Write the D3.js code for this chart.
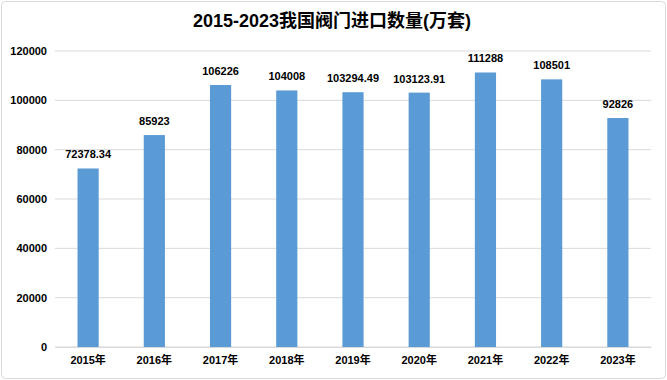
<!DOCTYPE html>
<html><head><meta charset="utf-8">
<script src="https://cdn.jsdelivr.net/npm/d3@7"></script>
<style>
html,body{margin:0;padding:0;background:#fff;}
svg{display:block;font-family:"Liberation Sans","Noto Sans CJK SC",sans-serif;}
</style></head>
<body>
<svg id="c" width="667" height="380"></svg>
<script>
const categories = ["2015年","2016年","2017年","2018年","2019年","2020年","2021年","2022年","2023年"];
const values = [72378.34, 85923, 106226, 104008, 103294.49, 103123.91, 111288, 108501, 92826];
const valueLabels = ["72378.34","85923","106226","104008","103294.49","103123.91","111288","108501","92826"];
const yTicks = [0, 20000, 40000, 60000, 80000, 100000, 120000];
const title = "2015-2023我国阀门进口数量(万套)";

const svg = d3.select("#c");
const W = 667, H = 380;
const m = {left: 55, right: 16, top: 51, bottom: 33};

svg.append("rect").attr("x",1.5).attr("y",1.5).attr("width",W-3).attr("height",H-3)
  .attr("rx",4).attr("fill","#fff").attr("stroke","#d9d9d9");

const x = d3.scaleBand().domain(categories).range([m.left, W - m.right]).paddingInner(0.68).paddingOuter(0.34);
const y = d3.scaleLinear().domain([0, 120000]).range([H - m.bottom, m.top]);

// gridlines
svg.append("g").selectAll("line").data(yTicks).join("line")
  .attr("x1", m.left).attr("x2", W - m.right)
  .attr("y1", d => y(d)).attr("y2", d => y(d))
  .attr("stroke", "#d9d9d9").attr("stroke-width", 1);

// y axis
const ya = svg.append("g").attr("transform", `translate(${m.left},0)`)
  .call(d3.axisLeft(y).tickValues(yTicks).tickSize(0).tickPadding(8).tickFormat(d3.format("d")));
ya.select(".domain").remove();
ya.selectAll("text").attr("font-size", 11).attr("font-weight", "bold").attr("fill", "#000")
  .attr("font-family", "'Liberation Sans',sans-serif");

// bars
svg.append("g").selectAll("rect").data(values).join("rect")
  .attr("x", (d,i) => x(categories[i]))
  .attr("width", x.bandwidth())
  .attr("y", d => y(d))
  .attr("height", d => y(0) - y(d))
  .attr("fill", "#5B9BD5");

// value labels
svg.append("g").selectAll("text").data(values).join("text")
  .attr("x", (d,i) => x(categories[i]) + x.bandwidth()/2)
  .attr("y", d => y(d) - 10)
  .attr("text-anchor", "middle")
  .attr("font-size", 11).attr("font-weight", "bold").attr("fill", "#000")
  .text((d,i) => valueLabels[i]);

// x axis
const xa = svg.append("g").attr("transform", `translate(0,${y(0)})`)
  .call(d3.axisBottom(x).tickSize(0).tickPadding(9));
xa.select(".domain").attr("stroke", "#d9d9d9");
xa.selectAll("text").attr("font-size", 11).attr("font-weight", "bold").attr("fill", "#000")
  .attr("font-family", "'Liberation Sans','Noto Sans CJK SC',sans-serif");

// title
svg.append("text").attr("x", 332).attr("y", 27).attr("text-anchor", "middle")
  .attr("font-size", 18).attr("font-weight", "bold").attr("fill", "#000")
  .attr("font-family", "'Liberation Sans','Noto Sans CJK SC',sans-serif")
  .text(title);
</script>
</body></html>
